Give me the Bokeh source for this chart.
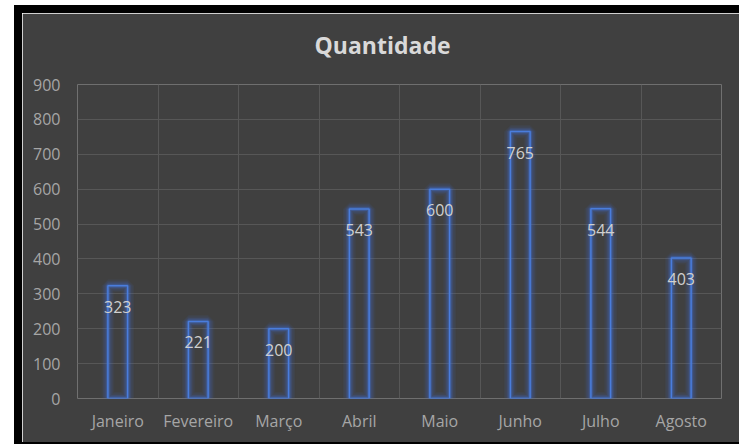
from bokeh.plotting import figure
from bokeh.models import Range1d, FixedTicker, ColumnDataSource, Title
from bokeh.core.properties import value
from bokeh.embed import file_html
from bokeh.resources import INLINE

meses = ["Janeiro", "Fevereiro", "Março", "Abril", "Maio", "Junho", "Julho", "Agosto"]
quantidade = [323, 221, 200, 543, 600, 765, 544, 403]
y_ticks = [0, 100, 200, 300, 400, 500, 600, 700, 800, 900]
titulo = "Quantidade"

xs = [i + 0.5 for i in range(len(meses))]
src = ColumnDataSource(dict(x=xs, y=quantidade, lbl=[str(v) for v in quantidade]))

BG = "#404040"
FONT = "Open Sans"

p = figure(width=717, height=429, output_backend="svg", toolbar_location=None,
           x_range=Range1d(0, len(meses)), y_range=Range1d(0, 900),
           min_border_left=55, min_border_right=18, min_border_top=71, min_border_bottom=44,
           background_fill_color=BG, border_fill_color=BG, outline_line_color=None)
p.margin = (13, 0, 0, 22)
p.styles = {"box-shadow": "-8px -8px 0 0 black, 0 -8px 0 0 black, 0 2px 0 0 black, -8px 2px 0 0 black"}

# spacer between frame and title (pushes the title upward)
p.add_layout(Title(text=" ", text_font_size="2px", standoff=20, text_color=BG), "above")

p.title.text = titulo
p.title.align = "left"
p.title.offset = 237
p.title.text_font = FONT
p.title.text_font_size = "23px"
p.title.text_font_style = "bold"
p.title.text_color = "#d9d9d9"
p.title.standoff = 0

# axes
p.xaxis.ticker = FixedTicker(ticks=xs)
p.xaxis.major_label_overrides = {x: m for x, m in zip(xs, meses)}
p.yaxis.ticker = FixedTicker(ticks=y_ticks)
for ax in (p.xaxis, p.yaxis):
    ax.axis_line_color = None
    ax.major_tick_line_color = None
    ax.minor_tick_line_color = None
    ax.major_tick_out = 0
    ax.major_tick_in = 0
    ax.major_label_text_font = FONT
    ax.major_label_text_font_size = "16px"
    ax.major_label_text_color = "#a6a6a6"
p.xaxis.major_label_standoff = 11
p.yaxis.major_label_standoff = 17

p.xgrid.ticker = FixedTicker(ticks=list(range(len(meses) + 1)))
p.ygrid.ticker = FixedTicker(ticks=y_ticks)
p.xgrid.grid_line_color = "#575757"
p.ygrid.grid_line_color = "#575757"

# glow layers
for lw, a in [(13, 0.06), (10, 0.09), (7, 0.14), (4, 0.3)]:
    p.vbar(x="x", top="y", bottom=0, width=0.245, source=src, fill_color=None,
           line_color="#3f73e0", line_alpha=a, line_width=lw)
p.vbar(x="x", top="y", bottom=0, width=0.245, source=src, fill_color=None,
       line_color="#4a7ddc", line_width=1.5)

p.text(x="x", y="y", text="lbl", source=src, text_align="center", text_baseline="middle",
       y_offset=21, text_font=value(FONT), text_font_size="16px", text_color="#d0d0d0")

open("out.html", "w").write(file_html(p, INLINE))
